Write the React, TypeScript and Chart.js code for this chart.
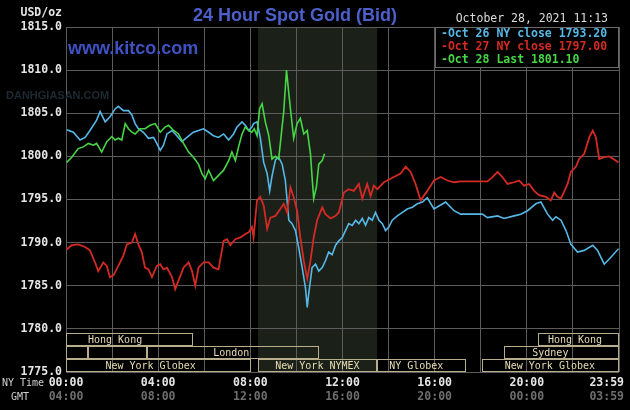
import React, { useEffect, useRef } from "react";
import { Chart, registerables } from "chart.js";
Chart.register(...registerables);

// ---- data (x = hours, New York time) ----
const blueHours = [0.03,0.32,0.61,0.83,1.04,1.33,1.48,1.70,1.91,2.13,2.27,2.49,2.71,2.86,3.00,3.14,3.36,3.58,3.80,3.94,4.09,4.23,4.38,4.60,4.81,5.03,5.25,5.53,5.75,5.97,6.19,6.40,6.62,6.84,7.06,7.27,7.42,7.64,7.78,7.93,8.07,8.14,8.29,8.43,8.58,8.73,8.84,8.94,9.09,9.23,9.38,9.52,9.67,9.81,9.96,10.10,10.25,10.39,10.47,10.53,10.68,10.83,10.97,11.12,11.26,11.40,11.55,11.70,11.84,11.99,12.13,12.27,12.42,12.57,12.71,12.86,13.00,13.14,13.29,13.43,13.58,13.73,13.87,14.01,14.16,14.38,14.60,14.81,15.03,15.25,15.47,15.68,15.97,16.22,16.48,16.84,17.13,17.57,18.07,18.29,18.73,19.01,19.45,19.74,20.03,20.39,20.61,20.90,21.12,21.26,21.48,21.70,21.91,22.20,22.49,22.86,23.07,23.36,23.65,23.98];
const blueValues = [1803.1,1802.8,1801.9,1802.2,1803.0,1804.2,1805.2,1804.0,1804.6,1805.5,1805.8,1805.3,1805.3,1804.8,1803.8,1803.2,1802.8,1802.1,1802.2,1801.5,1800.7,1801.3,1802.6,1803.0,1802.4,1801.7,1802.2,1802.8,1803.0,1803.2,1802.8,1802.4,1802.2,1802.6,1801.9,1802.6,1803.4,1804.0,1803.6,1803.0,1803.4,1803.8,1804.0,1802.2,1799.3,1798.0,1796.0,1797.7,1799.6,1799.9,1799.1,1797.2,1792.6,1792.2,1791.4,1789.4,1787.1,1784.8,1782.5,1784.0,1787.1,1787.5,1786.7,1787.1,1787.9,1788.9,1788.6,1789.7,1790.2,1790.6,1791.4,1792.2,1792.0,1792.6,1792.2,1792.8,1792.0,1792.9,1792.6,1793.5,1792.6,1792.2,1791.4,1791.8,1792.6,1793.1,1793.5,1793.9,1794.1,1794.5,1794.7,1795.2,1793.9,1794.3,1794.7,1793.7,1793.3,1793.3,1793.3,1792.9,1793.1,1792.8,1793.1,1793.3,1793.7,1794.5,1794.7,1793.3,1792.6,1793.0,1792.6,1791.4,1789.8,1788.9,1789.1,1789.7,1789.1,1787.5,1788.3,1789.3];

const redHours = [0.03,0.25,0.53,0.83,1.04,1.26,1.40,1.62,1.77,1.91,2.06,2.27,2.49,2.64,2.86,3.00,3.14,3.29,3.43,3.58,3.73,3.94,4.09,4.23,4.38,4.60,4.74,4.88,5.10,5.32,5.47,5.61,5.75,5.97,6.19,6.40,6.62,6.84,6.99,7.13,7.35,7.57,7.78,7.93,8.07,8.14,8.29,8.43,8.58,8.73,8.87,9.09,9.30,9.45,9.60,9.74,9.88,10.03,10.17,10.32,10.47,10.61,10.75,10.90,11.12,11.26,11.48,11.70,11.84,12.06,12.27,12.49,12.71,12.86,13.07,13.22,13.36,13.51,13.80,14.23,14.52,14.74,14.96,15.17,15.39,15.68,15.97,16.26,16.55,16.84,17.13,18.29,18.51,18.73,18.94,19.16,19.45,19.67,19.88,20.10,20.32,20.53,20.83,21.04,21.19,21.33,21.48,21.62,21.77,21.91,22.13,22.27,22.49,22.71,22.86,23.00,23.14,23.36,23.58,23.87,23.98];
const redValues = [1789.2,1789.7,1789.8,1789.5,1789.1,1787.7,1786.7,1787.7,1787.3,1786.0,1786.2,1787.3,1788.5,1789.8,1790.0,1791.0,1789.8,1788.9,1787.1,1786.9,1786.0,1787.3,1787.5,1786.9,1787.1,1786.0,1784.6,1785.6,1787.1,1787.7,1786.7,1785.0,1787.1,1787.7,1787.7,1787.1,1786.9,1790.2,1790.4,1789.7,1790.4,1790.6,1791.0,1791.2,1791.8,1790.6,1794.9,1795.3,1794.3,1791.6,1792.9,1793.1,1793.9,1794.5,1793.5,1796.4,1795.3,1793.7,1790.6,1787.9,1785.8,1787.9,1790.6,1792.6,1794.1,1793.3,1792.8,1793.1,1793.5,1795.8,1796.2,1796.0,1796.8,1795.1,1796.8,1795.4,1796.6,1796.2,1797.0,1797.6,1798.0,1798.8,1798.2,1796.8,1794.9,1796.0,1797.2,1797.6,1797.2,1797.0,1797.1,1797.1,1797.6,1798.2,1797.6,1796.8,1797.0,1797.2,1796.6,1796.8,1796.0,1795.5,1795.3,1794.9,1795.8,1795.3,1795.1,1795.9,1796.8,1798.2,1798.8,1799.7,1800.3,1802.2,1803.0,1802.2,1799.7,1799.9,1800.0,1799.5,1799.3];

const greenHours = [0.03,0.25,0.53,0.75,0.97,1.19,1.33,1.55,1.77,1.99,2.13,2.27,2.42,2.57,2.71,2.86,3.00,3.22,3.43,3.65,3.87,4.09,4.30,4.45,4.67,4.88,5.10,5.32,5.53,5.75,5.90,6.04,6.19,6.40,6.62,6.84,7.06,7.20,7.35,7.49,7.64,7.78,7.93,8.07,8.17,8.29,8.40,8.51,8.65,8.80,8.94,9.09,9.23,9.33,9.45,9.57,9.67,9.77,9.88,10.03,10.17,10.32,10.47,10.61,10.68,10.75,10.87,10.97,11.12,11.22];
const greenValues = [1799.3,1799.9,1800.9,1801.1,1801.5,1801.3,1801.5,1800.5,1801.7,1802.3,1801.9,1802.1,1801.9,1803.8,1803.2,1802.8,1802.6,1803.2,1803.2,1803.6,1803.8,1802.8,1803.4,1803.6,1803.0,1802.6,1801.5,1800.5,1799.9,1799.1,1798.0,1797.4,1798.4,1797.2,1797.8,1798.4,1799.5,1800.5,1799.5,1801.1,1802.6,1803.4,1803.0,1802.8,1803.2,1802.4,1805.5,1806.1,1804.0,1802.4,1799.7,1800.0,1799.7,1802.2,1805.2,1810.0,1807.3,1804.8,1802.1,1803.8,1804.4,1802.6,1803.0,1800.3,1797.6,1795.1,1796.5,1799.1,1799.5,1800.3];

const seriesLabels = ["Oct 26 NY close 1793.20", "Oct 27 NY close 1797.00", "Oct 28 Last 1801.10"];
const seriesColors = ["#55b8e6", "#d42a24", "#46d646"];

const yMin = 1775;
const yMax = 1815;
const yStep = 5;
const nyTimeLabels = ["00:00", "04:00", "08:00", "12:00", "16:00", "20:00", "23:59"];
const gmtLabels = ["04:00", "08:00", "12:00", "16:00", "20:00", "00:00", "03:59"];
const labelHours = [0, 4, 8, 12, 16, 20, 23.983];

const comexStart = 8.333;
const comexEnd = 13.5;

// trading sessions drawn in the bottom band (row 0 = top row)
const sessionNames = ["Hong Kong", "Hong Kong", "", "", "London", "Sydney", "New York Globex", "New York NYMEX", "NY Globex", "New York Globex"];
const sessionStart = [0, 20.5, 0, 0.97, 3.5, 19.0, 0, 8.333, 13.5, 18.06];
const sessionEnd = [5.5, 24, 0.97, 3.5, 11.0, 24, 8.05, 13.5, 17.36, 24];
const sessionRow = [0, 0, 1, 1, 1, 1, 2, 2, 2, 2];
const sessionLabelAt = [2.13, 22.09, 0, 0, 7.17, 21.02, 3.67, 10.91, 15.2, 21.0];
const sessionRowTop = [1779.5, 1778.0, 1776.5];
const sessionRowBottom = [1778.0, 1776.5, 1775.0];

const titleText = "24 Hour Spot Gold (Bid)";
const dateText = "October 28, 2021 11:13";
const unitText = "USD/oz";

const MONO = "'DejaVu Sans Mono', 'Liberation Mono', monospace";
const SANS = "'Liberation Sans', Arial, sans-serif";

const kitcoPlugin = {
  id: "kitco",
  beforeDraw(chart: any) {
    const { ctx, chartArea: a, scales } = chart;
    const x = scales.x;
    ctx.save();
    ctx.fillStyle = "#000";
    ctx.fillRect(0, 0, chart.width, chart.height);
    const x0 = x.getPixelForValue(comexStart);
    const x1 = x.getPixelForValue(comexEnd);
    ctx.fillStyle = "#1b2019";
    ctx.fillRect(x0, a.top, x1 - x0, a.bottom - a.top);
    ctx.restore();
  },
  beforeDatasetsDraw(chart: any) {
    const { ctx, chartArea: a } = chart;
    ctx.save();
    ctx.font = "bold 11px " + SANS;
    ctx.fillStyle = "#1d2a33";
    ctx.textBaseline = "middle";
    ctx.textAlign = "left";
    ctx.fillText("DANHGIASAN.COM", 6, 96);
    ctx.font = "bold 18px " + SANS;
    ctx.fillStyle = "#3f52c4";
    ctx.fillText("www.kitco.com", a.left + 2, 49);
    ctx.restore();
  },
  afterDraw(chart: any) {
    const { ctx, chartArea: a, scales } = chart;
    const x = scales.x;
    const y = scales.y;
    ctx.save();
    // sessions
    ctx.lineWidth = 1;
    ctx.strokeStyle = "#b9ae8c";
    ctx.font = "10px " + MONO;
    ctx.textBaseline = "middle";
    ctx.textAlign = "center";
    for (let i = 0; i < sessionNames.length; i++) {
      const r = sessionRow[i];
      const sx = Math.round(x.getPixelForValue(sessionStart[i])) + 0.5;
      const ex = Math.round(Math.min(x.getPixelForValue(sessionEnd[i]), a.right)) - 0.5;
      const ty = Math.round(y.getPixelForValue(sessionRowTop[r])) + 0.5;
      const by = Math.round(y.getPixelForValue(sessionRowBottom[r])) - 0.5;
      ctx.strokeRect(sx, ty, ex - sx, by - ty);
      if (sessionNames[i]) {
        ctx.fillStyle = "#e8dcb4";
        ctx.fillText(sessionNames[i], x.getPixelForValue(sessionLabelAt[i]), (ty + by) / 2 + 0.5);
      }
    }
    // legend box
    const lx = 435;
    const lw = a.right - lx;
    ctx.fillStyle = "#000";
    ctx.fillRect(lx, a.top, lw, 40);
    ctx.strokeStyle = "#6a6a6a";
    ctx.strokeRect(lx + 0.5, a.top + 0.5, lw - 1, 40);
    ctx.font = "bold 11.5px " + MONO;
    ctx.textAlign = "left";
    for (let i = 0; i < seriesLabels.length; i++) {
      ctx.fillStyle = seriesColors[i];
      ctx.fillText("-" + seriesLabels[i], lx + 6, a.top + 7.5 + i * 12.6);
    }
    // date
    ctx.font = "11.5px " + MONO;
    ctx.fillStyle = "#dcdcdc";
    ctx.textAlign = "right";
    ctx.fillText(dateText, 608, 19);
    // unit
    ctx.font = "bold 11.5px " + MONO;
    ctx.fillStyle = "#e6e6e6";
    ctx.fillText(unitText, 62, 13);
    // title
    ctx.font = "bold 18px " + SANS;
    ctx.fillStyle = "#4c60cc";
    ctx.textAlign = "center";
    ctx.fillText(titleText, 295, 16);
    // x labels
    ctx.font = "10px " + MONO;
    ctx.fillStyle = "#d0d0d0";
    ctx.textAlign = "left";
    ctx.fillText("NY Time", 2, 383);
    ctx.fillText("GMT", 11, 397);
    ctx.font = "bold 11.5px " + MONO;
    for (let i = 0; i < labelHours.length; i++) {
      const px = x.getPixelForValue(labelHours[i]);
      const w = ctx.measureText(nyTimeLabels[i]).width;
      const cx = Math.min(px, chart.width - 6 - w / 2);
      ctx.textAlign = "center";
      ctx.fillStyle = "#e6e6e6";
      ctx.fillText(nyTimeLabels[i], cx, 383);
      ctx.fillStyle = "#6e6e6e";
      ctx.fillText(gmtLabels[i], cx, 397);
    }
    ctx.restore();
  },
};

function pts(h: number[], v: number[]) {
  return h.map((t, i) => ({ x: t, y: v[i] }));
}

export default function App() {
  const ref = useRef<HTMLCanvasElement | null>(null);
  useEffect(() => {
    if (!ref.current) return;
    const chart = new Chart(ref.current, {
      type: "line",
      data: {
        datasets: [
          { label: seriesLabels[2], data: pts(greenHours, greenValues), borderColor: seriesColors[2], borderWidth: 1.6, pointRadius: 0, tension: 0 },
          { label: seriesLabels[1], data: pts(redHours, redValues), borderColor: seriesColors[1], borderWidth: 1.8, pointRadius: 0, tension: 0 },
          { label: seriesLabels[0], data: pts(blueHours, blueValues), borderColor: seriesColors[0], borderWidth: 1.6, pointRadius: 0, tension: 0 },
        ],
      },
      options: {
        responsive: false,
        animation: false,
        events: [],
        layout: { padding: { left: 0, top: 27, right: 11, bottom: 38 } },
        plugins: { legend: { display: false }, tooltip: { enabled: false }, title: { display: false } },
        scales: {
          x: {
            type: "linear",
            min: 0,
            max: 24,
            ticks: { display: false, stepSize: 2 },
            grid: { color: "#5c5c5c", drawTicks: false, lineWidth: 1 },
            border: { display: false },
            afterFit: (s: any) => { s.height = 0; },
          },
          y: {
            min: yMin,
            max: yMax,
            ticks: {
              stepSize: yStep,
              padding: 4,
              color: "#e6e6e6",
              font: { family: MONO, size: 11.5, weight: "bold" },
              callback: (v: any) => Number(v).toFixed(1),
            },
            grid: { color: "#5c5c5c", drawTicks: false, lineWidth: 1 },
            border: { display: true, color: "#5c5c5c" },
            afterFit: (s: any) => { s.width = 66; },
          },
        },
      },
      plugins: [kitcoPlugin],
    });
    return () => chart.destroy();
  }, []);
  return (
    <div style={{ position: "fixed", left: 0, top: 0, width: 630, height: 410, background: "#000" }}>
      <canvas ref={ref} width={630} height={410} style={{ display: "block" }} />
    </div>
  );
}
